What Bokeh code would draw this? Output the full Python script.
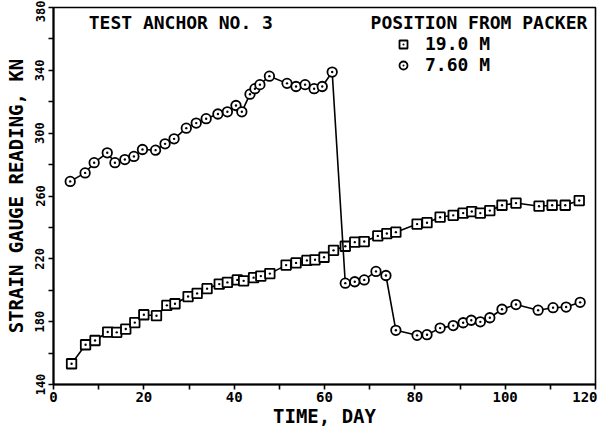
from bokeh.plotting import figure
from bokeh.models import FixedTicker, Label, Legend, LegendItem
from bokeh.embed import file_html
from bokeh.resources import INLINE

# ---- data ----
sq_day = [4.0, 7.1, 9.2, 12.0, 14.0, 16.0, 18.0, 20.0, 22.8, 25.1, 26.9, 29.8, 31.8, 34.0,
          36.7, 38.5, 40.7, 42.1, 44.3, 45.9, 47.9, 51.5, 53.7, 56.1, 57.9, 59.9, 62.0,
          64.6, 66.7, 68.8, 71.8, 73.8, 75.8, 80.5, 82.7, 85.6, 88.5, 90.7, 92.6, 94.5,
          96.6, 99.3, 102.4, 107.5, 110.4, 113.3, 116.4]
sq_kn = [153.2, 165.3, 168.0, 173.4, 173.2, 175.3, 179.4, 184.4, 183.8, 190.4, 191.4, 196.0,
         198.0, 201.0, 203.9, 205.0, 206.6, 206.0, 208.0, 209.0, 210.6, 216.0, 217.4, 219.0,
         219.4, 221.0, 225.4, 228.0, 230.6, 231.0, 234.6, 236.1, 237.0, 242.1, 243.0, 246.5,
         247.7, 249.1, 250.1, 249.1, 250.7, 254.1, 255.5, 253.5, 254.1, 254.1, 257.1]

ci_day = [3.7, 7.0, 9.0, 11.9, 13.6, 15.8, 17.8, 19.7, 22.6, 24.7, 26.7, 29.4, 31.6, 33.8,
          36.4, 38.5, 40.4, 41.7, 43.5, 44.6, 45.7, 47.8, 51.7, 53.7, 55.7, 57.7, 59.5, 61.7,
          64.6, 66.7, 68.8, 71.4, 73.6, 75.8, 80.5, 82.7, 85.6, 88.5, 90.7, 92.5, 94.5, 96.6,
          99.3, 102.4, 107.3, 110.6, 113.5, 116.6]
ci_kn = [269.3, 274.7, 281.2, 287.5, 281.2, 283.2, 285.2, 289.6, 289.2, 293.2, 296.4, 303.2,
         306.4, 309.2, 312.2, 313.6, 317.6, 313.6, 324.8, 328.3, 330.9, 336.3, 331.7, 329.7,
         330.9, 328.3, 329.7, 338.9, 204.5, 205.4, 206.6, 212.0, 209.4, 174.5, 171.3, 171.7,
         175.9, 177.5, 179.3, 180.9, 179.9, 182.5, 187.9, 190.9, 187.3, 188.9, 189.3, 192.3]

x_ticks = [0, 20, 40, 60, 80, 100, 120]
x_minor = [10, 30, 50, 70, 90, 110]
y_ticks = [140, 180, 220, 260, 300, 340, 380]
y_minor = [160, 200, 240, 280, 320, 360]

title_text = "TEST ANCHOR NO. 3"
legend_title = "POSITION FROM PACKER"
series_names = ["19.0 M", "7.60 M"]
x_label = "TIME, DAY"
y_label = "STRAIN GAUGE READING, KN"

FONT = "DejaVu Sans Mono"

p = figure(width=597, height=429, x_range=(0, 120), y_range=(140, 380),
           output_backend="svg", toolbar_location=None,
           min_border_left=53, min_border_right=2, min_border_top=7, min_border_bottom=0)

p.xgrid.visible = False
p.ygrid.visible = False
p.outline_line_color = "black"
p.outline_line_width = 1.6
p.background_fill_color = "white"
p.border_fill_color = "white"

# axes
p.xaxis.ticker = FixedTicker(ticks=x_ticks, minor_ticks=x_minor)
p.yaxis.ticker = FixedTicker(ticks=y_ticks, minor_ticks=y_minor)
for ax in (p.xaxis, p.yaxis):
    ax.axis_line_width = 2
    ax.axis_line_color = "black"
    ax.major_tick_line_width = 1.6
    ax.minor_tick_line_width = 1.6
    ax.major_tick_out = 5
    ax.major_tick_in = 0
    ax.minor_tick_out = 5
    ax.minor_tick_in = 0
    ax.major_label_text_font = FONT
    ax.major_label_text_font_style = "bold"
    ax.major_label_text_color = "black"
    ax.axis_label_text_font = FONT
    ax.axis_label_text_font_style = "bold"
    ax.axis_label_text_color = "black"
    ax.axis_label_text_font_size = "19px"

p.xaxis.major_label_text_font_size = "14px"
p.xaxis.major_label_standoff = 2
p.xaxis.axis_label = x_label
p.xaxis.axis_label_standoff = 0

p.yaxis.major_label_text_font_size = "12px"
p.yaxis.major_label_orientation = "vertical"
p.yaxis.major_label_standoff = 4
p.yaxis.axis_label = y_label
p.yaxis.axis_label_standoff = 6

# series
p.line(sq_day, sq_kn, line_color="black", line_width=1.6)
r_sq = p.scatter(sq_day, sq_kn, marker="square_dot", size=9.5, line_color="black",
                 line_width=1.8, fill_color="white")
p.line(ci_day, ci_kn, line_color="black", line_width=1.6)
r_ci = p.scatter(ci_day, ci_kn, marker="circle_dot", size=9.5, line_color="black",
                 line_width=1.8, fill_color="white")

# title text inside the frame
p.add_layout(Label(x=7.8, y=370.6, text=title_text, text_font=FONT, text_font_size="18px",
                   text_font_style="bold", text_baseline="middle", text_color="black"))
p.add_layout(Label(x=70.2, y=370.6, text=legend_title, text_font=FONT, text_font_size="18px",
                   text_font_style="bold", text_baseline="middle", text_color="black"))

legend = Legend(items=[LegendItem(label=series_names[0], renderers=[r_sq]),
                       LegendItem(label=series_names[1], renderers=[r_ci])],
                location=(340, 309), orientation="vertical",
                label_text_font=FONT, label_text_font_size="18px",
                label_text_font_style="bold", label_text_color="black",
                glyph_width=20, glyph_height=20, label_height=14, label_standoff=12,
                spacing=0, padding=0, margin=0,
                border_line_color=None, background_fill_alpha=0)
p.add_layout(legend)

open("out.html", "w").write(file_html(p, INLINE))
